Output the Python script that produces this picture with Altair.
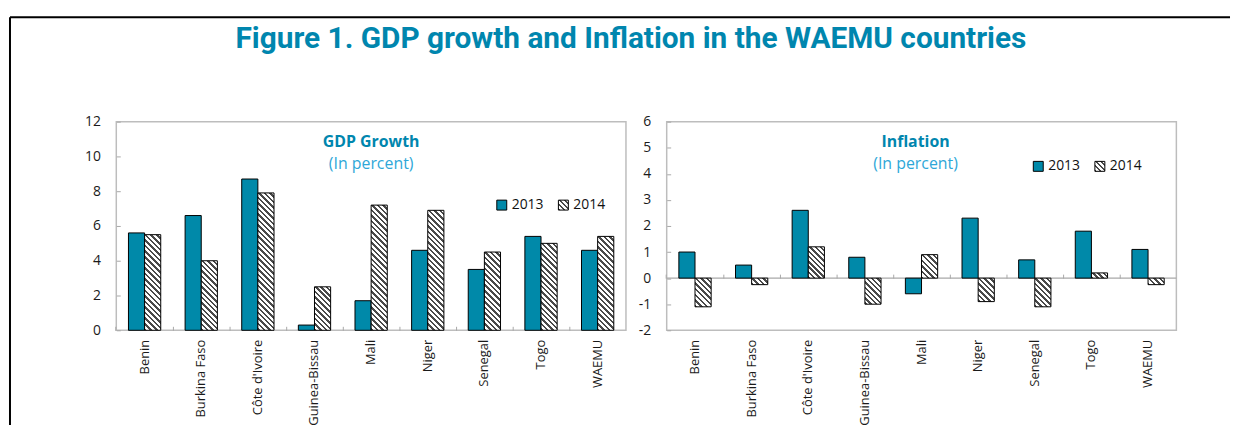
import json
import altair as alt

# ---------------- data ----------------
countries = ["Benin", "Burkina Faso", "Côte d'Ivoire", "Guinea-Bissau", "Mali",
             "Niger", "Senegal", "Togo", "WAEMU"]
years = ["2013", "2014"]
gdp_2013 = [5.6, 6.6, 8.7, 0.3, 1.7, 4.6, 3.5, 5.4, 4.6]
gdp_2014 = [5.5, 4.0, 7.9, 2.5, 7.2, 6.9, 4.5, 5.0, 5.4]
inf_2013 = [1.0, 0.5, 2.6, 0.8, -0.6, 2.3, 0.7, 1.8, 1.1]
inf_2014 = [-1.1, -0.25, 1.2, -1.0, 0.9, -0.9, -1.1, 0.2, -0.25]
gdp_ticks = [0, 2, 4, 6, 8, 10, 12]
inf_ticks = [-2, -1, 0, 1, 2, 3, 4, 5, 6]

# ---------------- style ----------------
TEAL = "#0089A9"
TITLE_TEAL = "#0086AE"
SUB_TEAL = "#2EA7D8"
GRAY = "#A8A8A8"
FONT = "Open Sans"
PANEL_W, PANEL_H = 513, 210
PAD_INNER = 0.43
BAR_W = PANEL_W / len(countries) * (1 - PAD_INNER) / 2
BOUNDARY = -(PAD_INNER / 2) / (1 - PAD_INNER)   # tick at the edge between categories


def hatch(w, h, period=5.5, frac=0.45, dark="#4a4a4a"):
    """Diagonal '\\' hatching built as a striped linear gradient."""
    n = max(1, round((w + h) / period))
    k = (w + h) / (w * w + h * h)
    stops = []
    for i in range(n):
        a, b, c = i / n, (i + frac) / n, (i + 1) / n
        stops += [{"offset": round(a, 5), "color": dark},
                  {"offset": round(b, 5), "color": dark},
                  {"offset": round(b, 5), "color": "#ffffff"},
                  {"offset": round(c, 5), "color": "#ffffff"}]
    return {"gradient": "linear", "x1": 0, "y1": 1,
            "x2": round(k * w, 5), "y2": round(1 - k * h, 5), "stops": stops}


def records(v13, v14, span):
    rows = []
    for c, a, b in zip(countries, v13, v14):
        rows.append({"country": c, "year": "2013", "value": a, "fill": TEAL})
        rows.append({"country": c, "year": "2014", "value": b,
                     "fill": hatch(BAR_W, abs(b) * PANEL_H / span)})
    return rows


legend_fill = alt.ExprRef(
    "datum.value == '2014' ? " + json.dumps(hatch(10, 10, period=5.0)) + " : '" + TEAL + "'"
)

x_scale = alt.Scale(paddingInner=PAD_INNER, paddingOuter=PAD_INNER / 2)


def y_axis(ticks):
    return alt.Axis(values=ticks, grid=False, domain=False, ticks=False,
                    tickSize=0, labelPadding=16, labelFontSize=14,
                    labelExpr="'' + datum.value")


def bars(rows, domain, ticks, lx, ly):
    return alt.Chart(alt.Data(values=rows)).mark_bar(
        stroke="black", strokeWidth=1
    ).encode(
        x=alt.X("country:N", sort=countries, title=None, scale=x_scale,
                axis=alt.Axis(labelAngle=270, labelAlign="right", labelBaseline="middle",
                              labelPadding=9, labelFontSize=13, ticks=False, domain=False)),
        xOffset=alt.XOffset("year:N", sort=years,
                            scale=alt.Scale(paddingInner=0, paddingOuter=0)),
        y=alt.Y("value:Q", title=None,
                scale=alt.Scale(domain=domain, nice=False, zero=False),
                axis=y_axis(ticks)),
        fill=alt.Fill("fill:N", scale=None),
        opacity=alt.Opacity("year:N", sort=years,
                            scale=alt.Scale(domain=years, range=[1, 1]),
                            legend=alt.Legend(
                                title=None, orient="none", legendX=lx, legendY=ly,
                                direction="horizontal", symbolType="square",
                                symbolSize=100, symbolStrokeColor="black",
                                symbolStrokeWidth=1, symbolFillColor=legend_fill,
                                labelFontSize=14, labelFont=FONT, labelColor="#111111",
                                labelOffset=3, columnPadding=12, padding=0)),
    )


def inner_ticks(rows, domain, ticks, zero_offset):
    """Invisible layer that only carries the small inward-pointing tick marks."""
    return alt.Chart(alt.Data(values=rows)).mark_bar(opacity=0).encode(
        x=alt.X("country:N", sort=countries, title=None, scale=x_scale,
                axis=alt.Axis(orient="top", offset=zero_offset, labels=False,
                              domain=False, ticks=True, tickSize=4, tickColor=GRAY,
                              tickWidth=1, bandPosition=BOUNDARY)),
        y=alt.Y("value:Q", title=None,
                scale=alt.Scale(domain=domain, nice=False, zero=False),
                axis=alt.Axis(orient="right", offset=-PANEL_W, values=ticks,
                              labels=False, domain=False, grid=False, tickSize=4,
                              tickColor=GRAY, tickWidth=1)),
    )


one = alt.Data(values=[{"k": 1}])
frame_top = alt.Chart(one).mark_rule(color="black", strokeWidth=2, clip=False).encode(
    x=alt.value(-107), x2=alt.value(1121), y=alt.value(-105)
)
frame_left = alt.Chart(one).mark_rule(color="black", strokeWidth=2, clip=False).encode(
    x=alt.value(-107), y=alt.value(-105), y2=alt.value(310)
)

gdp_rows = records(gdp_2013, gdp_2014, 12)
inf_rows = records(inf_2013, inf_2014, 8)

left = alt.layer(
    bars(gdp_rows, [0, 12], gdp_ticks, 381, 77),
    inner_ticks(gdp_rows, [0, 12], gdp_ticks, -PANEL_H),
    frame_top, frame_left,
).resolve_axis(x="independent", y="independent").properties(
    width=PANEL_W, height=PANEL_H,
    title=alt.TitleParams("GDP Growth", subtitle="(In percent)", frame="group",
                          anchor="middle", offset=-157, font=FONT, fontSize=16,
                          fontWeight="bold", color=TITLE_TEAL, subtitleFont=FONT,
                          subtitleFontSize=16, subtitleColor=SUB_TEAL, subtitlePadding=6),
)

zero_line = alt.Chart(one).mark_rule(color=GRAY, strokeWidth=1.5).encode(
    y=alt.YDatum(0, scale=alt.Scale(domain=[-2, 6], nice=False, zero=False),
                 axis=None)
)
right = alt.layer(
    zero_line,
    bars(inf_rows, [-2, 6], inf_ticks, 367, 38),
    inner_ticks(inf_rows, [-2, 6], inf_ticks, -PANEL_H * 6 / 8),
).resolve_axis(x="independent", y="independent").properties(
    width=PANEL_W, height=PANEL_H,
    title=alt.TitleParams("Inflation", subtitle="(In percent)", frame="group",
                          anchor="middle", offset=-58, dx=-6, font=FONT, fontSize=16,
                          fontWeight="bold", color=TITLE_TEAL, subtitleFont=FONT,
                          subtitleFontSize=16, subtitleColor=SUB_TEAL, subtitlePadding=6),
)

chart = alt.hconcat(left, right, spacing=41, bounds="flush").resolve_scale(
    opacity="independent"
).resolve_legend(
    opacity="independent"
).properties(
    title=alt.TitleParams("Figure 1. GDP growth and Inflation in the WAEMU countries",
                          font="Roboto", fontSize=30, fontWeight="bold", color=TITLE_TEAL,
                          anchor="middle", frame="bounds", offset=-39, dx=11),
    padding={"left": 0, "top": 6, "right": 0, "bottom": 0},
).configure_view(
    stroke="#BDBDBD", strokeWidth=1.5
).configure_axis(
    labelFont=FONT, labelColor="#1a1a1a"
)

chart.save("out.html", embed_options={"renderer": "svg", "actions": False})
